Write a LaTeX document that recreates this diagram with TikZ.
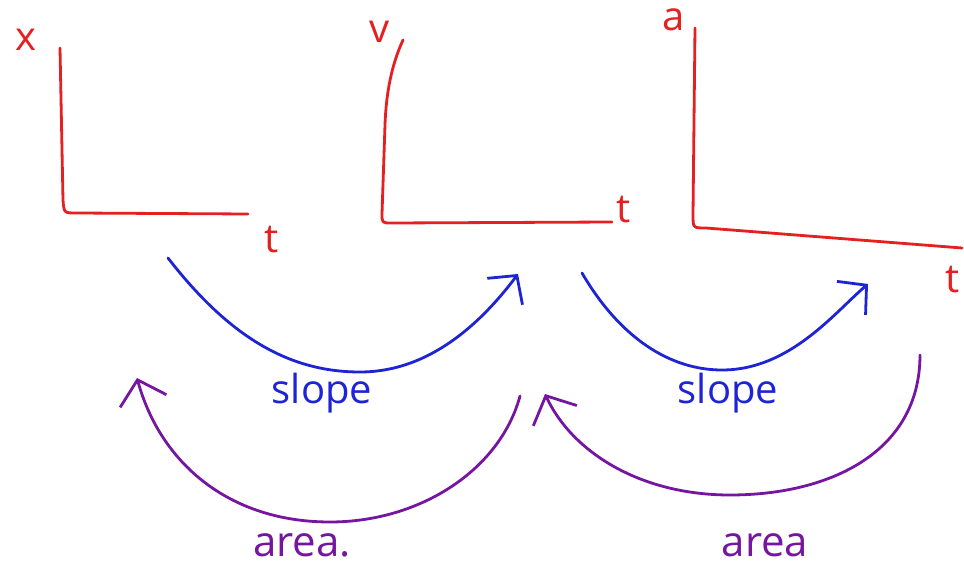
\documentclass[tikz,border=0pt]{standalone}
\usepackage{fontspec}
\setmainfont{Open Sans}
\usetikzlibrary{arrows.meta}
\definecolor{penred}{RGB}{228,32,32}
\definecolor{penblue}{RGB}{30,36,214}
\definecolor{penpurple}{RGB}{118,22,160}
\begin{document}
\begin{tikzpicture}[x=1pt,y=-1pt,
  axis/.style={penred,line width=2.8pt,line cap=round,line join=round},
  lbl/.style={penred,font=\fontsize{40}{40}\selectfont,inner sep=0pt},
  slopearrow/.style={penblue,line width=2.8pt,line cap=round,-{Straight Barb[length=20pt,width=44pt,line width=2.8pt]}},
  areaarrow/.style={penpurple,line width=2.8pt,line cap=round,-{Straight Barb[length=22pt,width=48pt,line width=2.8pt]}},
  slopetxt/.style={penblue,font=\fontsize{40}{40}\selectfont,inner sep=0pt},
  areatxt/.style={penpurple,font=\fontsize{42}{42}\selectfont,inner sep=0pt}]
\useasboundingbox[fill=white] (0,0) rectangle (964,577);
% axes
\draw[axis] (60,48) -- (63,200) .. controls (64,213) .. (76,213) -- (248,214);
\draw[axis] (403,40) .. controls (391,66) and (386,95) .. (385,125) -- (382,214) .. controls (382,223) .. (392,223) -- (612,222);
\draw[axis] (695,28) -- (693,215) .. controls (693,228) .. (706,228) -- (962,248);
% labels
\node[lbl] (lx) at (26,40) {x};
\node[lbl] (lv) at (380,32) {v};
\node[lbl] (la) at (674,20) {a};
\node[lbl] (t1) at (272,240) {t};
\node[lbl] (t2) at (624,210) {t};
\node[lbl] (t3) at (953,280) {t};
% arrow end points
\coordinate (b1s) at (168,258);
\coordinate (b1m) at (360,372);
\coordinate (b1e) at (518,274);
\coordinate (b2s) at (582,273);
\coordinate (b2m) at (722,370);
\coordinate (b2e) at (868,284);
\coordinate (p1s) at (520,396);
\coordinate (p1m) at (330,522);
\coordinate (p1e) at (137,378);
\coordinate (p2s) at (920,355);
\coordinate (p2m) at (730,495);
\coordinate (p2e) at (545,394);
% slope arrows
\draw[slopearrow] (b1s) .. controls (230,338) and (290,372) .. (b1m) .. controls (430,372) and (482,322) .. (b1e);
\draw[slopearrow] (b2s) .. controls (620,338) and (670,370) .. (b2m) .. controls (790,370) and (835,312) .. (b2e);
% area arrows
\draw[areaarrow] (p1s) .. controls (500,470) and (420,522) .. (p1m) .. controls (228,522) and (160,462) .. (p1e);
\draw[areaarrow] (p2s) .. controls (920,452) and (830,495) .. (p2m) .. controls (640,495) and (572,452) .. (p2e);
% texts
\node[slopetxt] (s1) at (322,393) {slope};
\node[slopetxt] (s2) at (728,393) {slope};
\node[areatxt] (a1) at (302,545) {area.};
\node[areatxt] (a2) at (765,545) {area};
\end{tikzpicture}
\end{document}
